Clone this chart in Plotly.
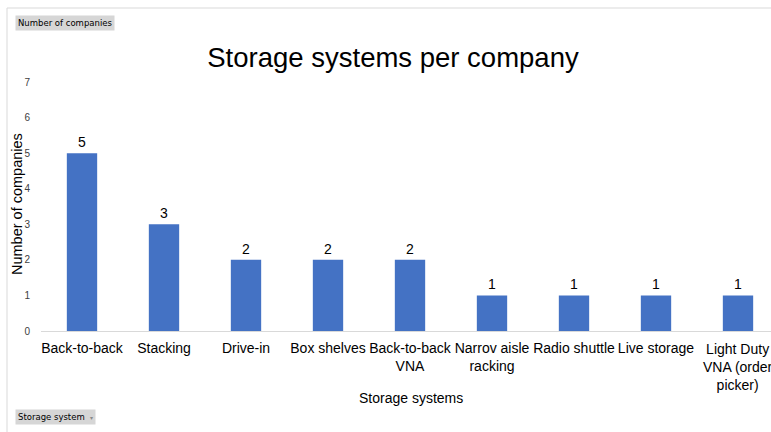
import plotly.graph_objects as go

categories = ["Back-to-back", "Stacking", "Drive-in", "Box shelves", "Back-to-back<br>VNA",
              "Narrov aisle<br>racking", "Radio shuttle", "Live storage",
              "Light Duty<br>VNA (order<br>picker)"]
companies = [5, 3, 2, 2, 2, 1, 1, 1, 1]
y_ticks = [0, 1, 2, 3, 4, 5, 6, 7]

W, H = 771, 432
L, R_, T, B = 41, 771, 82, 331  # plot area pixels
pw, ph = R_ - L, B - T

def xp(px):
    return (px - L) / pw

def yp(py):
    return (B - py) / ph

n = len(categories)
# last category label overflows the (cropped) right edge: draw it as an annotation at its category
ticktext = categories[:-1] + [""]

fig = go.Figure()
fig.add_trace(go.Bar(
    x=list(range(n)), y=companies,
    marker=dict(color="#4472C4", line=dict(width=0)),
    text=[str(v) for v in companies], textposition="outside",
    textfont=dict(family="Liberation Sans, Arial", size=14, color="#000000"),
    cliponaxis=False, width=0.37,
))

fig.update_layout(
    width=W, height=H,
    margin=dict(l=L, r=W - R_, t=T, b=H - B, autoexpand=False),
    paper_bgcolor="white", plot_bgcolor="white",
    showlegend=False,
    font=dict(family="Liberation Sans, Arial", color="#000000"),
    title=dict(text="Storage systems per company", xref="container", yref="container",
               x=393 / W, y=1 - 57 / H, xanchor="center", yanchor="middle",
               font=dict(family="Liberation Sans, Arial", size=27.5, color="#000000")),
    xaxis=dict(range=[-0.5, -0.5 + pw / 82], tickmode="array",
               tickvals=list(range(n)), ticktext=ticktext,
               tickangle=0, showgrid=False, zeroline=False,
               showline=True, linecolor="#d9d9d9", linewidth=1,
               ticks="outside", ticklen=4, tickcolor="rgba(0,0,0,0)",
               tickfont=dict(family="Liberation Sans, Arial", size=14, color="#000000")),
    yaxis=dict(range=[0, 7], tickmode="array", tickvals=y_ticks,
               showgrid=False, zeroline=False, showline=False,
               ticks="outside", ticklen=8, tickcolor="rgba(0,0,0,0)",
               tickfont=dict(family="Liberation Sans, Arial", size=10, color="#404040")),
    shapes=[
        dict(type="line", xref="paper", yref="paper", x0=xp(7), x1=xp(7), y0=yp(8), y1=yp(432),
             line=dict(color="#d9d9d9", width=1)),
        dict(type="line", xref="paper", yref="paper", x0=xp(7), x1=xp(771), y0=yp(8), y1=yp(8),
             line=dict(color="#d9d9d9", width=1)),
    ],
    annotations=[
        dict(text=categories[-1], xref="x", yref="paper", x=n - 1, y=yp(339),
             showarrow=False, xanchor="center", yanchor="top", align="center",
             font=dict(family="Liberation Sans, Arial", size=14, color="#000000")),
        dict(text="Number of companies", xref="paper", yref="paper", x=xp(17), y=yp(204),
             textangle=-90, showarrow=False, xanchor="center", yanchor="middle",
             font=dict(family="Liberation Sans, Arial", size=14.5, color="#000000")),
        dict(text="Storage systems", xref="paper", yref="paper", x=xp(411), y=yp(398),
             showarrow=False, xanchor="center", yanchor="middle",
             font=dict(family="Liberation Sans, Arial", size=14, color="#000000")),
        dict(text="Number of companies", xref="paper", yref="paper", x=xp(15), y=yp(23),
             showarrow=False, xanchor="left", yanchor="middle", bgcolor="#d6d6d6",
             borderpad=2, font=dict(family="DejaVu Sans", size=8.5, color="#000000")),
        dict(text="Storage system  <span style='font-size:6px;color:#888'>▾</span>",
             xref="paper", yref="paper", x=xp(15), y=yp(417),
             showarrow=False, xanchor="left", yanchor="middle", bgcolor="#d6d6d6",
             borderpad=2, font=dict(family="DejaVu Sans", size=8.5, color="#000000")),
    ],
)

fig.write_html("out.html")
